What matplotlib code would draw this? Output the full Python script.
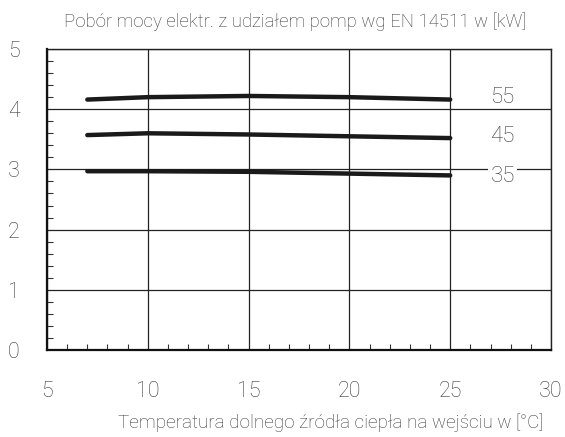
import matplotlib
matplotlib.use("Agg")
import matplotlib.pyplot as plt
from matplotlib.ticker import MultipleLocator

plt.rcParams['font.family'] = ['Roboto', 'DejaVu Sans']
plt.rcParams['font.weight'] = 'light'

temps = [7, 10, 15, 20, 25]
p55 = [4.16, 4.20, 4.22, 4.20, 4.16]
p45 = [3.57, 3.60, 3.58, 3.55, 3.52]
p35 = [2.97, 2.97, 2.96, 2.93, 2.90]
series = [("55", p55), ("45", p45), ("35", p35)]
xticks = [5, 10, 15, 20, 25, 30]
yticks = [0, 1, 2, 3, 4, 5]
title = "Pobór mocy elektr. z udziałem pomp wg EN 14511 w [kW]"
xlabel = "Temperatura dolnego źródła ciepła na wejściu w [°C]"

txt = "#3a3a3a"
fig = plt.figure(figsize=(5.65, 4.37), dpi=100)
ax = fig.add_axes([47/565, 1 - 350/437, (551 - 47)/565, (350 - 49)/437])
ax.set_xlim(5, 30)
ax.set_ylim(0, 5)
ax.set_xticks(xticks)
ax.set_yticks(yticks)
ax.xaxis.set_minor_locator(MultipleLocator(1))
ax.yaxis.set_minor_locator(MultipleLocator(0.2))
ax.tick_params(which='major', length=0, labelsize=15.5, labelcolor=txt)
ax.tick_params(axis='y', which='major', pad=24)
ax.tick_params(axis='x', which='major', pad=22)
for lbl in ax.get_yticklabels():
    lbl.set_horizontalalignment('center')
ax.tick_params(which='minor', direction='in', length=4, width=0.8, color='#333333')
ax.grid(True, which='major', color='#222222', linewidth=0.9)
for s in ['left', 'bottom']:
    ax.spines[s].set_linewidth(1.6)
    ax.spines[s].set_color('#111111')
for s in ['top', 'right']:
    ax.spines[s].set_linewidth(1.0)
    ax.spines[s].set_color('#222222')

label_y = [4.2, 3.55, 2.89]
for (lab, vals), ly in zip(series, label_y):
    ax.plot(temps, vals, color='#1a1a1a', linewidth=3.2, solid_capstyle='round')
    ax.text(27.6, ly, lab, fontsize=16, color=txt, ha='center', va='center',
            bbox=dict(facecolor='white', edgecolor='none', pad=2) if lab == "35" else None)

fig.text(295/565, 1 - 22/437, title, fontsize=13.4, color=txt, ha='center', va='center')
fig.text(543/565, 1 - 423/437, xlabel, fontsize=13.6, color=txt, ha='right', va='center')

fig.savefig("out.png", dpi=100)
